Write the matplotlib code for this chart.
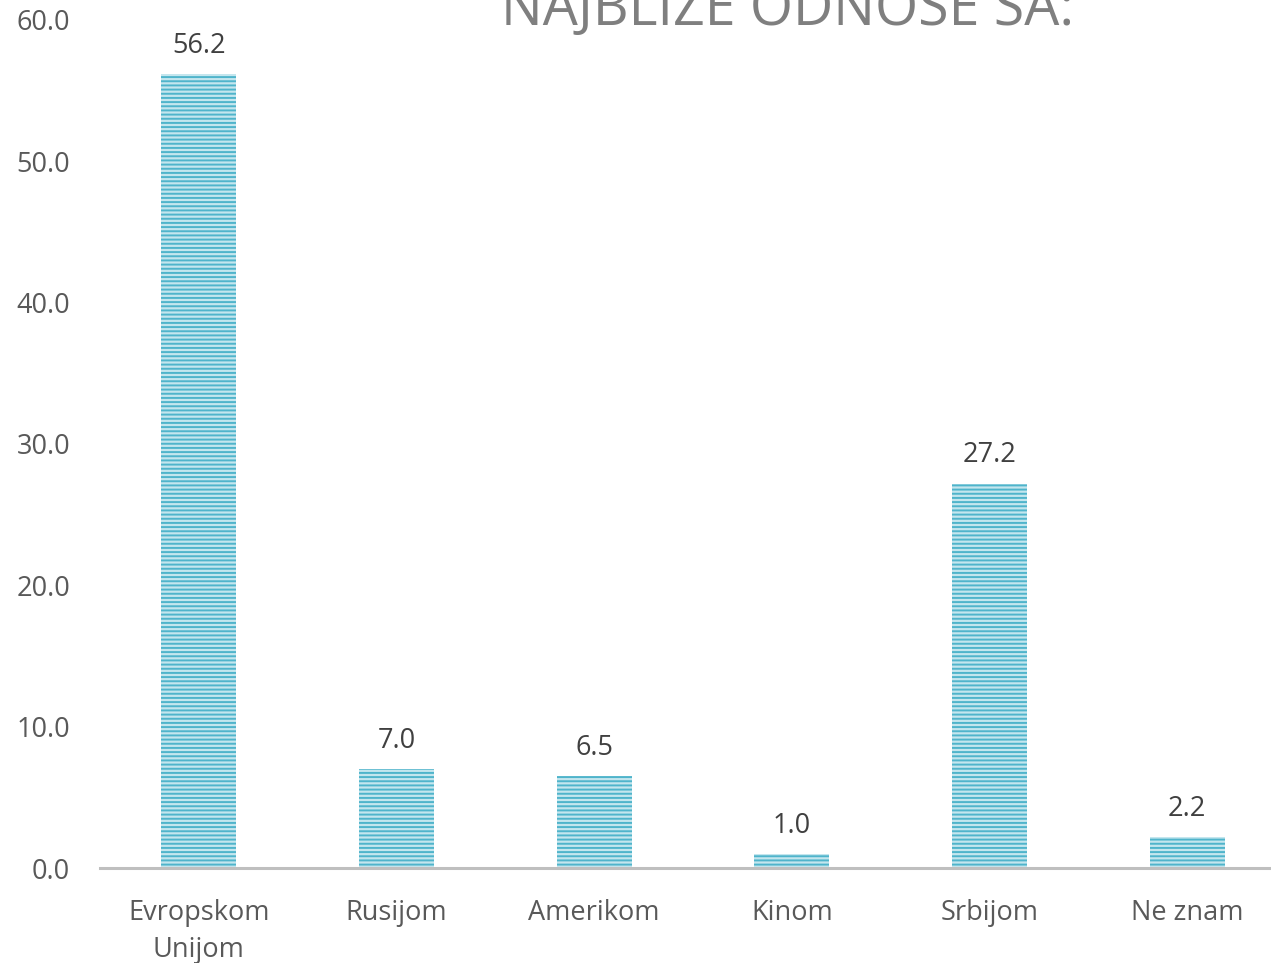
import matplotlib.pyplot as plt
import numpy as np

categories = ['Evropskom\nUnijom', 'Rusijom', 'Amerikom', 'Kinom', 'Srbijom', 'Ne znam']
values = [56.2, 7.0, 6.5, 1.0, 27.2, 2.2]
yticks = [0, 10, 20, 30, 40, 50, 60]
title = 'NAJBLIŽE ODNOSE SA:'

plt.rcParams['font.family'] = ['Open Sans', 'DejaVu Sans']
plt.rcParams['hatch.linewidth'] = 1.4

fig = plt.figure(figsize=(12.71, 9.63), dpi=100)
ax = fig.add_axes([100 / 1271, 95 / 963, 1186 / 1271, 848 / 963])

x = np.arange(len(categories))
bars = ax.bar(x, values, width=0.38, color='#c4e6ee', edgecolor='#4fb4cb',
              linewidth=0, hatch='----', zorder=2)
for xi, v in zip(x, values):
    ax.text(xi, v + 1.0, f'{v:.1f}', ha='center', va='bottom',
            fontsize=19.5, color='#404040')

ax.set_xlim(-0.5, 5.5)
ax.set_ylim(0, 60)
ax.set_yticks(yticks)
ax.set_yticklabels([f'{t:.1f}' for t in yticks], fontsize=19.5, color='#595959')
ax.set_xticks(x)
ax.set_xticklabels(categories, fontsize=19.5, color='#595959', linespacing=1.45)
ax.tick_params(axis='both', length=0)
ax.tick_params(axis='x', pad=22)
ax.tick_params(axis='y', pad=21.5)
for s in ['top', 'right', 'left']:
    ax.spines[s].set_visible(False)
ax.spines['bottom'].set_color('#bfbfbf')
ax.spines['bottom'].set_linewidth(2.2)
ax.spines['bottom'].set_zorder(3)

fig.text(788 / 1271, (963 - 25) / 963, title, ha='center', va='baseline',
         fontsize=40, color='#7f7f7f')

fig.savefig('out.png', dpi=100)
